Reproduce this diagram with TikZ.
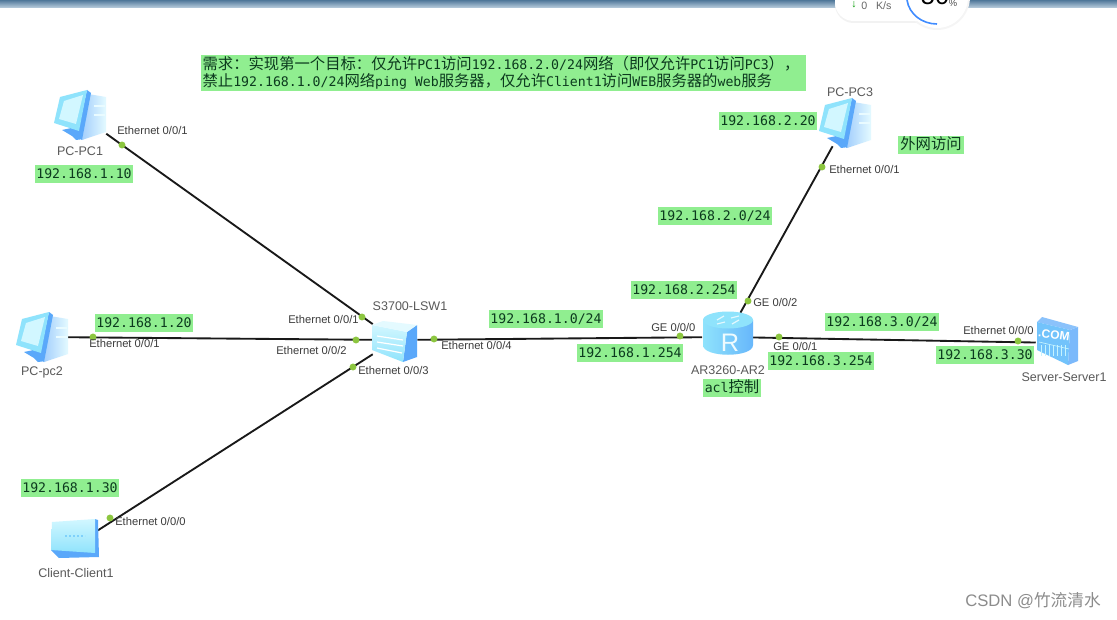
\documentclass[tikz,border=0pt]{standalone}
\usepackage{fontspec}
\setmainfont{Liberation Sans}
\newfontfamily\cjk{Noto Sans CJK SC}
\newfontfamily\monof{DejaVu Sans Mono}
\newcommand{\cjkb}[1]{{\cjk\fontsize{11.5}{12.75}\selectfont #1}}
\usetikzlibrary{calc}
\definecolor{glab}{HTML}{90EE90}
\definecolor{gtxt}{HTML}{0C3A1E}
\definecolor{dotc}{HTML}{8CC63F}
\definecolor{lblc}{HTML}{3C3C3C}
\definecolor{iconL}{HTML}{D2F7FF}
\definecolor{iconM}{HTML}{8FE3FC}
\definecolor{iconB}{HTML}{5AA8FA}
\definecolor{barT}{HTML}{4F7799}
\definecolor{barB}{HTML}{BDD0E0}
\tikzset{
  x=0.75pt,y=-0.75pt,
  green label/.style={fill=glab,text=gtxt,inner xsep=1pt,inner ysep=1.2pt,font=\monof\fontsize{9.9}{11}\selectfont,text depth=0.4ex,text height=1.7ex},
  port/.style={font=\fontsize{8.4}{10}\selectfont,text=lblc,inner sep=0pt},
  dev label/.style={font=\fontsize{9.4}{11}\selectfont,text=lblc!85!white,inner sep=0pt},
  dot/.style={circle,fill=dotc,minimum size=5.2pt,inner sep=0pt},
  link/.style={line width=1.4pt,color=black!90},
  device/.style={rectangle,inner sep=0pt,minimum width=#1},
  pics/pcicon/.style={code={
    \fill[iconB] (-18,15) -- (-4,12) -- (10,14) -- (4,24) -- (-4,25) -- (-8,21) -- cycle;
    \shade[left color=iconB!55!white,right color=iconL!60!white] (8,-21) -- (26,-18) -- (26,17) -- (2,25) -- cycle;
    \fill[iconB] (7,-25) -- (11,-22) -- (2,25) -- (-3,21) -- cycle;
    \fill[iconM] (-20,-18) -- (7,-25) -- (-1,16) -- (-26,8) -- cycle;
    \fill[iconL] (-16,-14) -- (3,-20) -- (-4,9) -- (-21,4) -- cycle;
    \fill[iconL!50!white] (14,-10) rectangle (25,-8);
    \fill[iconL!50!white] (14,-1) rectangle (25,1);
  }},
  pics/clienticon/.style={code={
    \fill[iconB] (20,-19) -- (23,-18) -- (24,19) -- (-16,20) -- (-24,12) -- cycle;
    \shade[top color=iconL,bottom color=iconM] (-23,-16) -- (20,-19) -- (20,15) -- (-24,12) -- cycle;
    \draw[iconM!70!iconB,line width=2.2pt,dash pattern=on 1.8pt off 1.2pt] (-10,-2) -- (10,-2);
  }},
  pics/switchicon/.style={code={
    \fill[iconB] (12,-8) -- (22,-15) -- (22,17) -- (8,22) -- cycle;
    \shade[top color=iconL,bottom color=iconM] (-23,-15) -- (12,-8) -- (8,22) -- (-23,10) -- cycle;
    \fill[iconL!60!white] (-23,-15) -- (-12,-19) -- (22,-15) -- (12,-8) -- cycle;
    \draw[white,line width=0.9pt] (-18,-4) -- (8,0);
    \draw[white,line width=0.9pt] (-18,2) -- (8,6);
    \draw[white,line width=0.9pt] (-18,8) -- (7,13);
  }},
  pics/routericon/.style={code={
    \shade[left color=iconM,right color=iconB!75!iconM] (-25,-17) -- (-25,8) .. controls (-25,21) and (25,21) .. (25,8) -- (25,-17) -- cycle;
    \fill[iconM] (0,-17) ellipse[x radius=25,y radius=8.5];
    \draw[white!75!iconM,line width=0.9pt] (-11,-17) -- (-4,-21) (11,-17) -- (4,-13) (-11,-13) -- (-3,-15) (3,-19) -- (11,-21);
    \node[white!85!iconM,font=\fontsize{19}{19}\selectfont,inner sep=0pt] at (2,6) {R};
  }},
  pics/servericon/.style={code={
    \fill[iconB!80!white] (12,-11) -- (20,-14) -- (20,20) -- (10,24) -- cycle;
    \fill[iconB!70!white] (-21,-19) -- (-16,-24) -- (20,-14) -- (12,-11) -- cycle;
    \fill[iconM!45!iconB] (-21,-19) -- (12,-11) -- (10,24) -- (-21,9) -- cycle;
    \node[white,font=\bfseries\fontsize{9}{10}\selectfont,inner sep=0pt,rotate=-8] at (-4,-6) {.COM};
    \foreach \k in {-17,-13,...,7} \draw[iconL!80!iconM,line width=0.4pt] (\k,4) -- (\k,15);
    \draw[iconL!80!iconM,line width=0.5pt] (-19,1) -- (11,8);
  }}
}
\begin{document}
\begin{tikzpicture}
\useasboundingbox (0,0) rectangle (1117,620);
\fill[white] (0,0) rectangle (1117,620);
% window title strip
\shade[top color=barT,bottom color=barB] (0,0) rectangle (1117,8);
% traffic widget
\fill[black!5,rounded corners=14pt] (835,-30) rectangle (945,23);
\fill[black!4] (937,-3) circle[radius=33];
\fill[white,rounded corners=14pt] (835,-30) rectangle (945,21);
\fill[white] (937,-3) circle[radius=31];
\draw[blue!60!cyan!75!white,line width=1.2pt] (907,0) .. controls (909,14) and (922,24) .. (937,24);
\node[font=\fontsize{8}{9}\selectfont,text=black!60,inner sep=0pt,anchor=west] (speed) at (861,6) {0 \ \ K/s};
\node[font=\fontsize{8}{9}\selectfont,text=green!60!black,inner sep=0pt] (arrowdn) at (854,5) {\textbf{↓}};
\node[font=\fontsize{19}{19}\selectfont,inner sep=0pt] (pct) at (935,-4) {50};
\node[font=\fontsize{7}{9}\selectfont,inner sep=0pt,text=black!70] (pctsign) at (953,3) {\%};

% device anchors (invisible bodies that clip the links)
\node[device=39pt,minimum height=36pt] (pc1) at (80,115) {};
\node[device=37pt,minimum height=36pt] (pc2) at (42,337) {};
\node[device=37pt,minimum height=36pt] (pc3) at (846,122) {};
\node[device=34pt,minimum height=36pt] (client) at (75,545) {};
\node[device=33pt,minimum height=36pt] (sw) at (395,340) {};
\node[device=37pt,minimum height=36pt] (router) at (727,337) {};
\node[device=39pt,minimum height=36pt] (server) at (1062,343) {};

% links
\draw[link] (pc1) -- (sw);
\draw[link] (pc2) -- (sw);
\draw[link] (client) -- (sw);
\draw[link] (sw) -- (router);
\draw[link] (router) -- (pc3);
\draw[link] (router) -- (server);

% icons
\pic at (80,115) {pcicon};
\pic at (42,337) {pcicon};
\pic at (845,123) {pcicon};
\pic at (75,538) {clienticon};
\pic at (395,340) {switchicon};
\pic at (728,337) {routericon};
\pic at (1058,341) {servericon};

% port dots
\node[dot] (d1) at (122,145) {};
\node[dot] (d2) at (93,337) {};
\node[dot] (d3) at (110,518) {};
\node[dot] (d4) at (362,317) {};
\node[dot] (d5) at (356,340) {};
\node[dot] (d6) at (353,367) {};
\node[dot] (d7) at (434,339) {};
\node[dot] (d8) at (680,336) {};
\node[dot] (d9) at (748,301) {};
\node[dot] (d10) at (779,337) {};
\node[dot] (d11) at (822,167) {};
\node[dot] (d12) at (1018,341) {};

% port labels
\node[port,anchor=west] (p1) at (117,130) {Ethernet 0/0/1};
\node[port,anchor=west] (p2) at (89,343) {Ethernet 0/0/1};
\node[port,anchor=west] (p3) at (115,521) {Ethernet 0/0/0};
\node[port,anchor=west] (p4) at (288,319) {Ethernet 0/0/1};
\node[port,anchor=west] (p5) at (276,350) {Ethernet 0/0/2};
\node[port,anchor=west] (p6) at (358,370) {Ethernet 0/0/3};
\node[port,anchor=west] (p7) at (441,345) {Ethernet 0/0/4};
\node[port,anchor=west] (p8) at (651,327) {GE 0/0/0};
\node[port,anchor=west] (p9) at (753,302) {GE 0/0/2};
\node[port,anchor=west] (p10) at (773,346) {GE 0/0/1};
\node[port,anchor=west] (p11) at (829,169) {Ethernet 0/0/1};
\node[port,anchor=west] (p12) at (963,330) {Ethernet 0/0/0};

% device labels
\node[dev label] (n1) at (80,151) {PC-PC1};
\node[dev label] (n2) at (42,372) {PC-pc2};
\node[dev label] (n3) at (850,92) {PC-PC3};
\node[dev label] (n4) at (76,573) {Client-Client1};
\node[dev label] (n5) at (410,306) {S3700-LSW1};
\node[dev label] (n6) at (728,370) {AR3260-AR2};
\node[dev label] (n7) at (1064,377) {Server-Server1};

% green labels
\node[green label] (g1) at (84,174) {192.168.1.10};
\node[green label] (g2) at (144,323) {192.168.1.20};
\node[green label] (g3) at (70,488) {192.168.1.30};
\node[green label] (g4) at (546,319) {192.168.1.0/24};
\node[green label] (g5) at (630,353) {192.168.1.254};
\node[green label] (g6) at (684,290) {192.168.2.254};
\node[green label] (g7) at (715,216) {192.168.2.0/24};
\node[green label] (g8) at (768,121) {192.168.2.20};
\node[green label] (g9) at (821,361) {192.168.3.254};
\node[green label] (g10) at (882,322) {192.168.3.0/24};
\node[green label] (g11) at (985,355) {192.168.3.30};
\node[green label] (g12) at (732,388) {acl\cjkb{控制}};
\node[green label,inner xsep=1.5pt,font=\cjk\fontsize{11.5}{13}\selectfont] (g13) at (931,145) {外网访问};
\node[green label,anchor=north west,align=left,text width=451.75pt,font=\monof\fontsize{9.9}{12.75}\selectfont,text height=,text depth=,inner xsep=1pt,inner ysep=1pt,minimum height=24.75pt] (g14) at (201,55) {\cjkb{需求：实现第一个目标：仅允许}PC1\cjkb{访问}192.168.2.0/24\cjkb{网络（即仅允许}PC1\cjkb{访问}PC3\cjkb{），}\\\cjkb{禁止}192.168.1.0/24\cjkb{网络}ping\hspace{5.96pt}Web\cjkb{服务器，仅允许}Client1\cjkb{访问}WEB\cjkb{服务器的}web\cjkb{服务}};

% watermark
\node[font=\fontsize{12.5}{14}\selectfont,text=black!45,inner sep=0pt,anchor=east] (wm) at (1101,601) {CSDN @{\cjk 竹流清水}};
\end{tikzpicture}
\end{document}
